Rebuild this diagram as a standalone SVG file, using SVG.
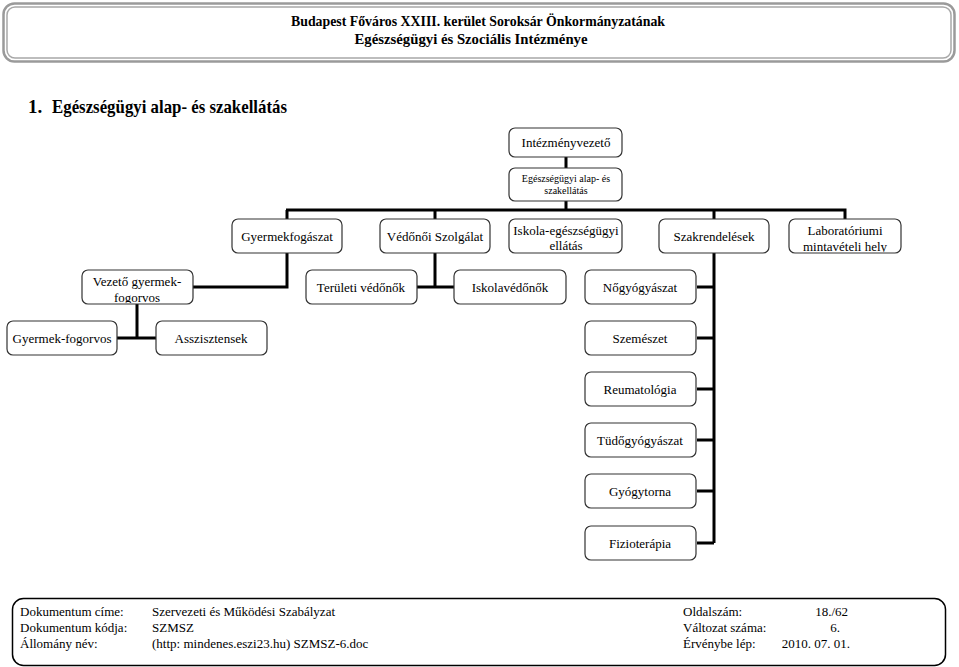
<svg xmlns="http://www.w3.org/2000/svg" width="959" height="667" viewBox="0 0 959 667" font-family="'Liberation Serif','Times New Roman',serif">
<style>
text{font-family:"Liberation Serif","Times New Roman",serif;fill:#000}
.box{fill:#fff;stroke:#333;stroke-width:1.2}
.n{font-size:13px;text-anchor:middle}
.s{font-size:10px;text-anchor:middle}
.c{fill:none;stroke:#000;stroke-width:3}
.f{font-size:13px}
.h{font-size:14px;font-weight:bold;text-anchor:middle}
</style>
<defs>
<clipPath id="clipLab"><rect x="789" y="219" width="112" height="33"/></clipPath>
<clipPath id="clipVez"><rect x="82" y="270" width="111" height="33"/></clipPath>
</defs>
<rect width="959" height="667" fill="#fff"/>
<g id="header">
<rect x="3.5" y="3.5" width="951" height="58" rx="11" fill="#fff" stroke="#9a9a9a" stroke-width="2.5"/>
<rect x="7" y="7" width="944" height="51" rx="8" fill="none" stroke="#a8a8a8" stroke-width="1.5"/>
<text class="h" x="478" y="26" textLength="374" lengthAdjust="spacingAndGlyphs">Budapest Főváros XXIII. kerület Soroksár Önkormányzatának</text>
<text class="h" x="471" y="44" textLength="233" lengthAdjust="spacingAndGlyphs">Egészségügyi és Szociális Intézménye</text>
</g>
<g id="title">
<text x="28" y="113" font-size="19" font-weight="bold">1.</text>
<text x="52" y="113" font-size="19" font-weight="bold" textLength="235" lengthAdjust="spacingAndGlyphs">Egészségügyi alap- és szakellátás</text>
</g>
<g id="connectors">
<path class="c" d="M566 157V168M566 201V210M286 210H845V219M287 210V219M435 210V219M714 210V219"/>
<path class="c" d="M287 253V287H193M137 304V338M117 338H156"/>
<path class="c" d="M435 253V287M417 287H454"/>
<path class="c" d="M714 253V543M697 287H714M697 338H714M697 389H714M697 440H714M697 491H714M697 543H714"/>
</g>
<g id="n-intezmenyvezeto"><rect class="box" x="509" y="128" width="113" height="29" rx="6"/><text class="n" x="566" y="147" font-size="14">Intézményvezető</text></g>
<g id="n-alap"><rect class="box" x="509" y="168" width="113" height="33" rx="6"/><text class="s" x="566" y="182">Egészségügyi alap- és</text><text class="s" x="566" y="194">szakellátás</text></g>
<g id="n-gyermekfogaszat"><rect class="box" x="232" y="219" width="110" height="34" rx="6"/><text class="n" x="287" y="241">Gyermekfogászat</text></g>
<g id="n-vedonoi"><rect class="box" x="380" y="219" width="110" height="34" rx="6"/><text class="n" x="435" y="241">Védőnői Szolgálat</text></g>
<g id="n-iskola"><rect class="box" x="509" y="219" width="113" height="34" rx="6"/><text class="n" x="566" y="235">Iskola-egészségügyi</text><text class="n" x="566" y="250">ellátás</text></g>
<g id="n-szakrendelesek"><rect class="box" x="659" y="219" width="110" height="34" rx="6"/><text class="n" x="714" y="241">Szakrendelések</text></g>
<g id="n-labor"><rect class="box" x="789" y="219" width="112" height="34" rx="6"/><g clip-path="url(#clipLab)"><text class="n" x="845" y="235">Laboratóriumi</text><text class="n" x="845" y="251">mintavételi hely</text></g></g>
<g id="n-vezeto"><rect class="box" x="82" y="270" width="111" height="34" rx="6"/><g clip-path="url(#clipVez)"><text class="n" x="137" y="286">Vezető gyermek-</text><text class="n" x="137" y="302">fogorvos</text></g></g>
<g id="n-teruleti"><rect class="box" x="306" y="270" width="111" height="34" rx="6"/><text class="n" x="361" y="292">Területi védőnők</text></g>
<g id="n-iskolavedonok"><rect class="box" x="454" y="270" width="112" height="34" rx="6"/><text class="n" x="510" y="292">Iskolavédőnők</text></g>
<g id="n-nogyogyaszat"><rect class="box" x="585" y="270" width="111" height="34" rx="6"/><text class="n" x="640" y="292">Nőgyógyászat</text></g>
<g id="n-gyermekfogorvos"><rect class="box" x="7" y="321" width="110" height="34" rx="6"/><text class="n" x="62" y="343">Gyermek-fogorvos</text></g>
<g id="n-asszisztensek"><rect class="box" x="156" y="321" width="111" height="34" rx="6"/><text class="n" x="211" y="343">Asszisztensek</text></g>
<g id="n-szemeszet"><rect class="box" x="585" y="321" width="111" height="34" rx="6"/><text class="n" x="640" y="343">Szemészet</text></g>
<g id="n-reumatologia"><rect class="box" x="585" y="372" width="111" height="34" rx="6"/><text class="n" x="640" y="394">Reumatológia</text></g>
<g id="n-tudogyogyaszat"><rect class="box" x="585" y="423" width="111" height="34" rx="6"/><text class="n" x="640" y="445">Tüdőgyógyászat</text></g>
<g id="n-gyogytorna"><rect class="box" x="585" y="474" width="111" height="34" rx="6"/><text class="n" x="640" y="496">Gyógytorna</text></g>
<g id="n-fizioterapia"><rect class="box" x="585" y="526" width="111" height="34" rx="6"/><text class="n" x="640" y="548">Fizioterápia</text></g>
<g id="footer">
<rect x="12.5" y="598.5" width="933" height="67" rx="11" fill="#fff" stroke="#000" stroke-width="1.5"/>
<text class="f" x="20" y="616">Dokumentum címe:</text>
<text class="f" x="152" y="616">Szervezeti és Működési Szabályzat</text>
<text class="f" x="683" y="616">Oldalszám:</text>
<text class="f" x="848" y="616" text-anchor="end">18./62</text>
<text class="f" x="20" y="632">Dokumentum kódja:</text>
<text class="f" x="152" y="632">SZMSZ</text>
<text class="f" x="683" y="632">Változat száma:</text>
<text class="f" x="840" y="632" text-anchor="end">6.</text>
<text class="f" x="20" y="648">Állomány név:</text>
<text class="f" x="152" y="648">(http: mindenes.eszi23.hu) SZMSZ-6.doc</text>
<text class="f" x="683" y="648">Érvénybe lép:</text>
<text class="f" x="850" y="648" text-anchor="end">2010. 07. 01.</text>
</g>
</svg>
